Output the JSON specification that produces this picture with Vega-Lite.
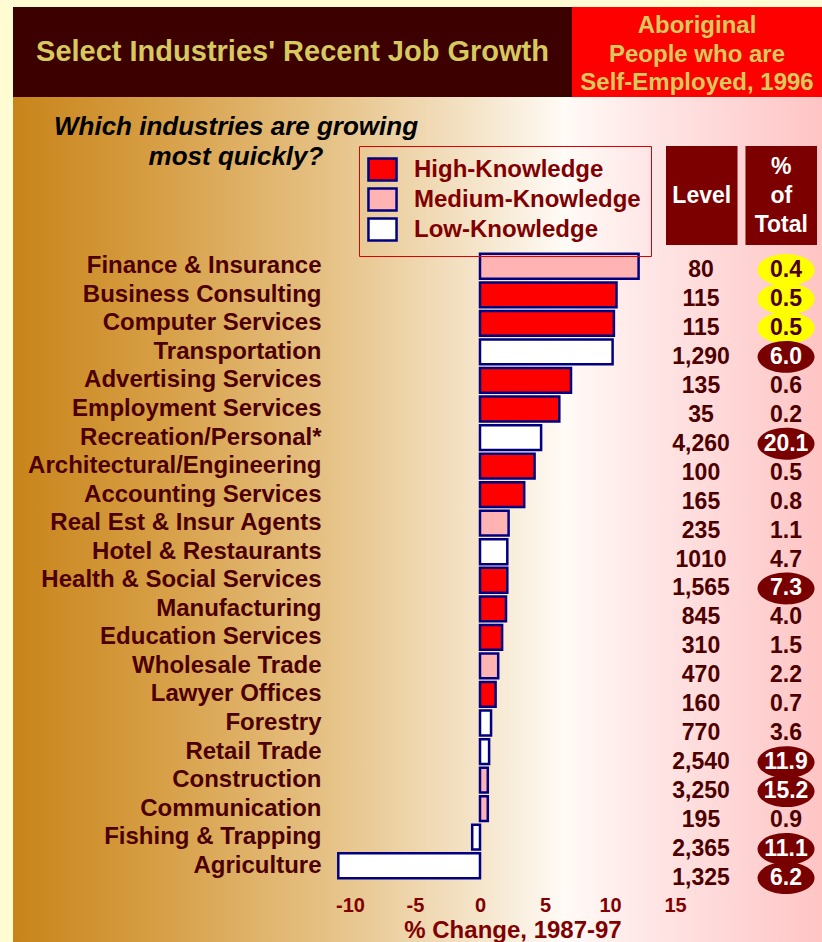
{
  "$schema": "https://vega.github.io/schema/vega-lite/v6.json",
  "background": "#fffbd2",
  "padding": {"left": 13, "top": 7, "right": 0, "bottom": 0},
  "config": {
    "view": {"stroke": null},
    "font": "Liberation Sans, Arial, sans-serif"
  },
  "datasets": {
    "industries": [
      {"industry": "Finance & Insurance", "change": 12.2, "knowledge": "Medium-Knowledge", "level": "80", "pct": 0.4, "highlight": "top growth"},
      {"industry": "Business Consulting", "change": 10.5, "knowledge": "High-Knowledge", "level": "115", "pct": 0.5, "highlight": "top growth"},
      {"industry": "Computer Services", "change": 10.3, "knowledge": "High-Knowledge", "level": "115", "pct": 0.5, "highlight": "top growth"},
      {"industry": "Transportation", "change": 10.2, "knowledge": "Low-Knowledge", "level": "1,290", "pct": 6.0, "highlight": "large share"},
      {"industry": "Advertising Services", "change": 7.0, "knowledge": "High-Knowledge", "level": "135", "pct": 0.6, "highlight": null},
      {"industry": "Employment Services", "change": 6.1, "knowledge": "High-Knowledge", "level": "35", "pct": 0.2, "highlight": null},
      {"industry": "Recreation/Personal*", "change": 4.7, "knowledge": "Low-Knowledge", "level": "4,260", "pct": 20.1, "highlight": "large share"},
      {"industry": "Architectural/Engineering", "change": 4.2, "knowledge": "High-Knowledge", "level": "100", "pct": 0.5, "highlight": null},
      {"industry": "Accounting Services", "change": 3.4, "knowledge": "High-Knowledge", "level": "165", "pct": 0.8, "highlight": null},
      {"industry": "Real Est & Insur Agents", "change": 2.2, "knowledge": "Medium-Knowledge", "level": "235", "pct": 1.1, "highlight": null},
      {"industry": "Hotel & Restaurants", "change": 2.1, "knowledge": "Low-Knowledge", "level": "1010", "pct": 4.7, "highlight": null},
      {"industry": "Health & Social Services", "change": 2.1, "knowledge": "High-Knowledge", "level": "1,565", "pct": 7.3, "highlight": "large share"},
      {"industry": "Manufacturing", "change": 2.0, "knowledge": "High-Knowledge", "level": "845", "pct": 4.0, "highlight": null},
      {"industry": "Education Services", "change": 1.7, "knowledge": "High-Knowledge", "level": "310", "pct": 1.5, "highlight": null},
      {"industry": "Wholesale Trade", "change": 1.4, "knowledge": "Medium-Knowledge", "level": "470", "pct": 2.2, "highlight": null},
      {"industry": "Lawyer Offices", "change": 1.2, "knowledge": "High-Knowledge", "level": "160", "pct": 0.7, "highlight": null},
      {"industry": "Forestry", "change": 0.85, "knowledge": "Low-Knowledge", "level": "770", "pct": 3.6, "highlight": null},
      {"industry": "Retail Trade", "change": 0.7, "knowledge": "Low-Knowledge", "level": "2,540", "pct": 11.9, "highlight": "large share"},
      {"industry": "Construction", "change": 0.6, "knowledge": "Medium-Knowledge", "level": "3,250", "pct": 15.2, "highlight": "large share"},
      {"industry": "Communication", "change": 0.6, "knowledge": "Medium-Knowledge", "level": "195", "pct": 0.9, "highlight": null},
      {"industry": "Fishing & Trapping", "change": -0.6, "knowledge": "Low-Knowledge", "level": "2,365", "pct": 11.1, "highlight": "large share"},
      {"industry": "Agriculture", "change": -10.9, "knowledge": "Low-Knowledge", "level": "1,325", "pct": 6.2, "highlight": "large share"}
    ]
  },
  "spacing": 0,
  "vconcat": [
    {
      "spacing": 0,
      "hconcat": [
        {
          "width": 559,
          "height": 90,
          "view": {"fill": "#3c0000", "stroke": null},
          "data": {"values": [{"t": "Select Industries' Recent Job Growth"}]},
          "mark": {"type": "text", "fontSize": 29, "fontWeight": "bold", "color": "#d6ca5e"},
          "encoding": {"text": {"field": "t"}}
        },
        {
          "width": 250,
          "height": 90,
          "view": {"fill": "#ff0000", "stroke": null},
          "data": {"values": [{"t": ["Aboriginal", "People who are", "Self-Employed, 1996"]}]},
          "mark": {"type": "text", "fontSize": 24, "fontWeight": "bold", "color": "#d6ca5e", "lineHeight": 28.5, "dy": -26},
          "encoding": {"text": {"field": "t"}}
        }
      ]
    },
    {
      "width": 809,
      "height": 148,
      "view": {"stroke": null, "fill": {"gradient": "linear", "x1": 0, "y1": 0, "x2": 1, "y2": 0, "stops": [
        {"offset": 0, "color": "#c8841a"}, {"offset": 0.169, "color": "#d69d42"}, {"offset": 0.392, "color": "#e6c286"},
        {"offset": 0.577, "color": "#f5e5cb"}, {"offset": 0.682, "color": "#fffbf6"}, {"offset": 0.775, "color": "#ffe8e8"},
        {"offset": 1, "color": "#ffc4c4"}]}},
      "title": {
        "text": ["Which industries are growing", "most quickly?"],
        "anchor": "start",
        "align": "center",
        "frame": "group",
        "dx": 223,
        "offset": -73,
        "fontSize": 26,
        "fontStyle": "italic",
        "fontWeight": "bold",
        "color": "#000000",
        "lineHeight": 30
      },
      "data": {"values": [
        {"column": "Level", "header": "Level"},
        {"column": "% of Total", "header": ["%", "of", "Total"]}
      ]},
      "encoding": {
        "x": {"field": "column", "type": "nominal", "sort": null,
          "scale": {"type": "band", "domain": ["Level", "% of Total"], "range": [653, 804], "paddingInner": 0.1, "paddingOuter": 0},
          "axis": null},
        "y": {"datum": "column headers", "type": "nominal",
          "scale": {"type": "band", "domain": ["column headers"], "range": [0, 148], "paddingInner": 0, "paddingOuter": 0.2475, "align": 1},
          "axis": null}
      },
      "layer": [
        {
          "mark": {"type": "rect", "color": "#7d0000"}
        },
        {
          "transform": [{"filter": "datum.column === 'Level'"}],
          "mark": {"type": "text", "fontSize": 23, "fontWeight": "bold", "color": "#ffffff"},
          "encoding": {"text": {"field": "header"}}
        },
        {
          "transform": [{"filter": "datum.column !== 'Level'"}],
          "mark": {"type": "text", "fontSize": 23, "fontWeight": "bold", "color": "#ffffff", "lineHeight": 29, "dy": -29},
          "encoding": {"text": {"field": "header"}}
        }
      ]
    },
    {
      "width": 809,
      "height": 697,
      "view": {"stroke": null, "fill": {"gradient": "linear", "x1": 0, "y1": 0, "x2": 1, "y2": 0, "stops": [
        {"offset": 0, "color": "#c8841a"}, {"offset": 0.169, "color": "#d69d42"}, {"offset": 0.392, "color": "#e6c286"},
        {"offset": 0.577, "color": "#f5e5cb"}, {"offset": 0.682, "color": "#fffbf6"}, {"offset": 0.775, "color": "#ffe8e8"},
        {"offset": 1, "color": "#ffc4c4"}]}},
      "data": {"name": "industries"},
      "layer": [
        {
          "mark": {"type": "bar", "stroke": "#000080", "strokeWidth": 2.5},
          "encoding": {
            "y": {"field": "industry", "type": "nominal", "sort": null,
              "scale": {"range": [7, 635], "paddingInner": 0.13, "paddingOuter": 0.065},
              "axis": {"title": null, "orient": "left", "offset": -312, "labelPadding": 4, "ticks": false, "tickSize": 0, "domain": false, "grid": false,
                "labelFontSize": 24, "labelFontWeight": "bold", "labelColor": "#4d0000", "labelLimit": 0}},
            "x": {"field": "change", "type": "quantitative",
              "scale": {"domain": [-10, 15], "range": [337, 662], "nice": false},
              "axis": {"orient": "bottom", "offset": -57, "values": [-10, -5, 0, 5, 10, 15], "ticks": false, "tickSize": 0, "domain": false, "grid": false,
                "labelExpr": "'' + datum.value",
                "labelPadding": 10, "labelFontSize": 20, "labelFontWeight": "bold", "labelColor": "#800000", "labelFlush": false, "labelOverlap": false,
                "title": "% Change, 1987-97", "titleFontSize": 24, "titleFontWeight": "bold", "titleColor": "#800000", "titlePadding": 3}},
            "color": {"field": "knowledge", "type": "nominal",
              "scale": {"domain": ["High-Knowledge", "Medium-Knowledge", "Low-Knowledge"], "range": ["#ff0000", "#ffb3b3", "#ffffff"]},
              "legend": {"title": null, "orient": "none", "legendX": 346, "legendY": 139, "direction": "vertical",
                "symbolType": "M-1.17,-0.92H1.17V0.92H-1.17Z", "symbolSize": 576, "symbolStrokeColor": "#000080", "symbolStrokeWidth": 2.5, "symbolOpacity": 1,
                "labelFontSize": 24, "labelFontWeight": "bold", "labelColor": "#800000", "labelOffset": 18, "labelLimit": 0,
                "rowPadding": -4, "padding": 10, "strokeColor": "#e00000"}}
          }
        },
        {
          "encoding": {
            "y": {"field": "industry", "type": "nominal", "sort": null,
              "scale": {"type": "band", "range": [10.5, 647.5], "paddingInner": 0, "paddingOuter": 0}, "axis": null}
          },
          "layer": [
            {
              "mark": {"type": "text", "fontSize": 23, "fontWeight": "bold", "color": "#4d0000"},
              "encoding": {
                "x": {"datum": "Level", "type": "nominal", "scale": {"type": "point", "domain": ["Level", "% of Total"], "range": [688, 773], "padding": 0}, "axis": null},
                "text": {"field": "level"}
              }
            },
            {
              "transform": [{"filter": "datum.highlight != null"}],
              "mark": {"type": "point", "shape": "M-1,0A1,0.56,0,1,0,1,0A1,0.56,0,1,0,-1,0Z", "size": 3249, "filled": true, "opacity": 1, "strokeWidth": 0},
              "encoding": {
                "x": {"datum": "% of Total", "type": "nominal", "scale": {"type": "point", "domain": ["Level", "% of Total"], "range": [688, 773], "padding": 0}, "axis": null},
                "fill": {"field": "highlight", "type": "nominal", "scale": {"domain": ["top growth", "large share"], "range": ["#ffff00", "#780000"]}, "legend": null}
              }
            },
            {
              "mark": {"type": "text", "fontSize": 23, "fontWeight": "bold"},
              "encoding": {
                "x": {"datum": "% of Total", "type": "nominal", "scale": {"type": "point", "domain": ["Level", "% of Total"], "range": [688, 773], "padding": 0}, "axis": null},
                "text": {"field": "pct", "type": "quantitative", "format": ".1f"},
                "color": {"condition": {"test": "datum.highlight === 'large share'", "value": "#ffffff"}, "value": "#4d0000"}
              }
            }
          ]
        }
      ],
      "resolve": {"scale": {"x": "independent", "y": "independent"}}
    }
  ]
}
